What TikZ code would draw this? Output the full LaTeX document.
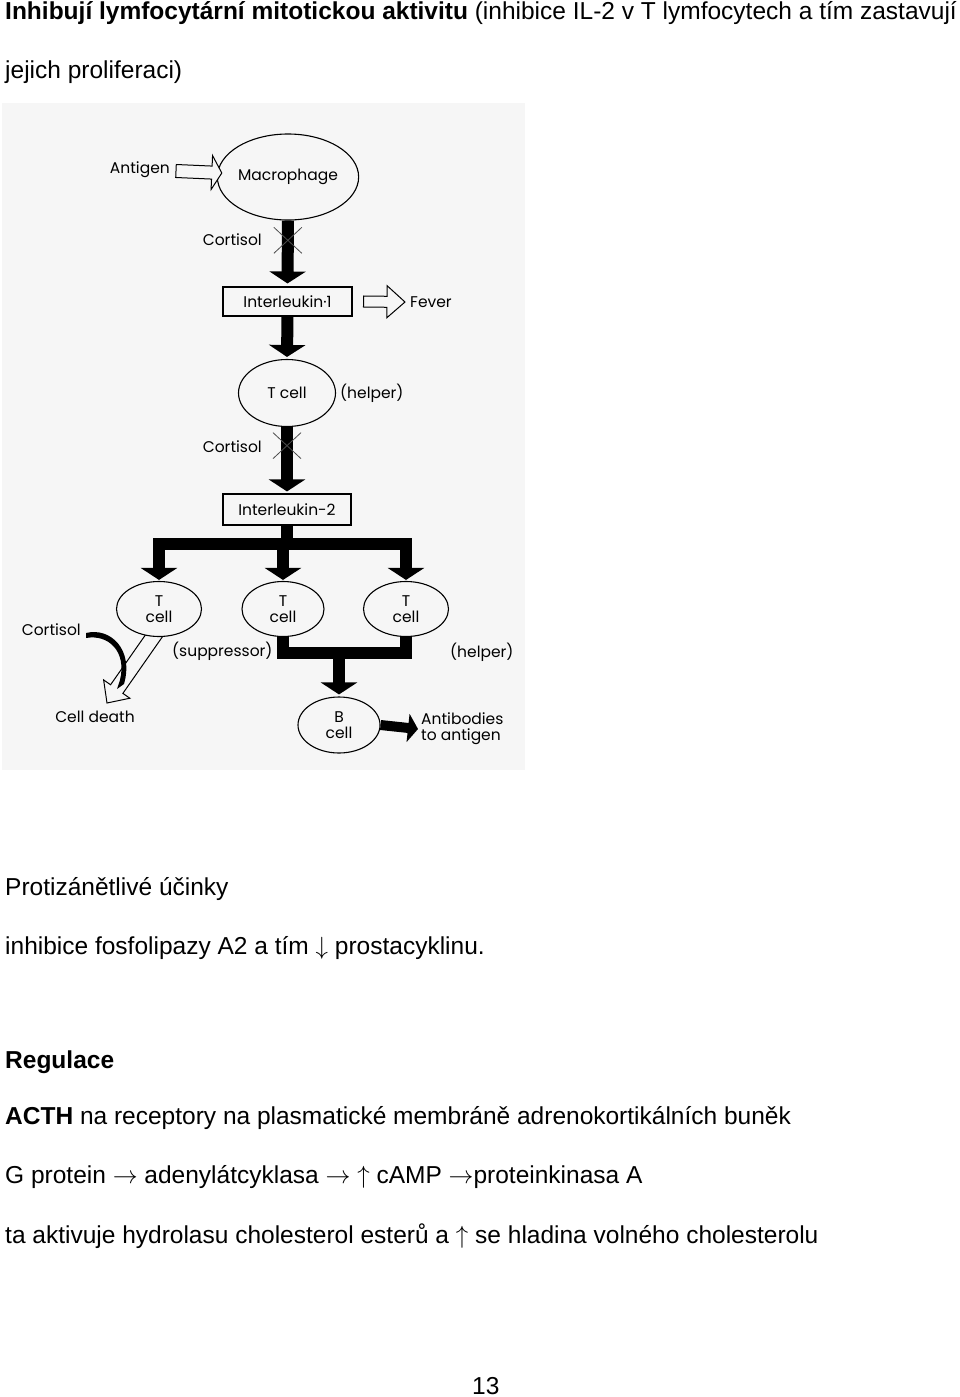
\documentclass[tikz,border=0pt]{standalone}
\usepackage{fontspec}
\setmainfont{Liberation Sans}
\newfontfamily\diag{Poppins}
\usetikzlibrary{arrows.meta,calc,shapes.geometric}
\definecolor{scanbg}{gray}{0.965}
\tikzset{
  txt/.style={anchor=base west, inner sep=0pt, font=\fontsize{24.5}{28}\selectfont},
  lab/.style={inner sep=0pt, font=\diag\fontsize{15.5}{19}\selectfont, align=center},
  cell/.style={ellipse, draw, line width=1.1pt, fill=scanbg, inner sep=0pt, lab},
  box/.style={rectangle, draw, line width=1.1pt, inner sep=0pt, lab},
  thk/.style={line width=12pt, -{Triangle[width=36pt,length=12pt]}},
  thksmall/.style={line width=10pt, -{Triangle[width=28pt,length=10pt]}},
  barline/.style={line width=12pt},
  crossline/.style={line width=0.8pt, black!70},
  hollow/.style={draw, line width=1pt, fill=scanbg, line join=miter},
}
\newcommand\hollowarrow[5]{%
  \coordinate (hH) at ($(#2)!#5!(#1)$);
  \path[hollow] ($(#1)!#3!90:(#2)$) -- ($(hH)!#3!-90:(#1)$) -- ($(hH)!#4!-90:(#1)$) -- (#2)
     -- ($(hH)!#4!90:(#1)$) -- ($(hH)!#3!90:(#1)$) -- ($(#1)!#3!-90:(#2)$) -- cycle;}
\begin{document}
\begin{tikzpicture}[x=1pt,y=-1pt]
\useasboundingbox (0,0) rectangle (960,1397);
\fill[white] (0,0) rectangle (960,1397);
% scanned area
\fill[scanbg] (2,103) rectangle (525,770);

% ---- text above ----
\node[txt] (title) at (5,20) {\textbf{Inhibují lymfocytární mitotickou aktivitu} (inhibice IL-2 v T lymfocytech a tím zastavují};
\node[txt] (title2) at (5,78) {jejich proliferaci)};

% ---- diagram nodes ----
\node[lab, anchor=east] (antigen) at (170,170) {Antigen};
\node[cell, minimum width=130pt, minimum height=86pt] (mac) at (288,177) {Macrophage};
\node[box, minimum width=129pt, minimum height=29pt] (il1) at (287.5,301.5) {Interleukin·1};
\node[lab, anchor=west] (fever) at (410,302) {Fever};
\node[cell, minimum width=97pt, minimum height=67pt] (th) at (287,393) {T cell};
\node[lab, anchor=west] (helper1) at (340,393) {(helper)};
\node[box, minimum width=128pt, minimum height=31pt] (il2) at (287,509.5) {Interleukin-2};
\node[lab, anchor=east] (cort1) at (262,240) {Cortisol};
\node[lab, anchor=east] (cort2) at (262,447) {Cortisol};

% hollow arrow to cell death (drawn before T cell so the ellipse covers its start)
\coordinate (cdtip) at (107,703);
\hollowarrow{158,630}{cdtip}{7.5pt}{16pt}{17pt}

\node[cell, minimum width=85pt, minimum height=55pt] (t1) at (159,609) {T\\[-3pt]cell};
\node[cell, minimum width=82pt, minimum height=55pt] (t2) at (283,609) {T\\[-3pt]cell};
\node[cell, minimum width=85pt, minimum height=55pt] (t3) at (406,609) {T\\[-3pt]cell};
\node[lab, anchor=west] (supp) at (172,651) {(suppressor)};
\node[lab, anchor=west] (helper2) at (450,652) {(helper)};
\node[cell, minimum width=82pt, minimum height=56pt] (bcell) at (339,725) {B\\[-3pt]cell};
\node[lab, anchor=west, align=left] (ab) at (421,729) {Antibodies\\[-3pt]to antigen};
\node[lab, anchor=east] (cort3) at (81,630) {Cortisol};
\node[lab] (cdeath) at (95,717) {Cell death};

% ---- connectors ----
\hollowarrow{$(antigen.east)+(6,1)$}{$(antigen.east -| mac.west)+(5,3)$}{6.5pt}{17pt}{10pt}
\hollowarrow{$(il1.east)+(11,0)$}{$(fever.west)+(-5,0)$}{5.5pt}{16pt}{18pt}

\draw[thk] (mac.south) -- ([yshift=3pt]il1.north);
\draw[thk] (il1.south) -- ([yshift=2pt]th.north);
\draw[thk] (th.south) -- ([yshift=2pt]il2.north);

\coordinate (x1) at ($(mac.south)!0.3!(il1.north)$);
\coordinate (x2) at ($(th.south)!0.28!(il2.north)$);
\draw[crossline] ($(x1)+(-14,-13)$) -- ($(x1)+(14,13)$) ($(x1)+(-14,13)$) -- ($(x1)+(14,-13)$);
\draw[crossline] ($(x2)+(-14,-13)$) -- ($(x2)+(14,13)$) ($(x2)+(-14,13)$) -- ($(x2)+(14,-13)$);

\coordinate (barY) at (0,544);
\draw[barline] (il2.south) -- (il2.south |- barY);
\draw[barline, line cap=rect] (t1.north |- barY) -- (t3.north |- barY);
\draw[thk] (t1.north |- barY) -- ([yshift=1pt]t1.north);
\draw[thk] (t2.north |- barY) -- ([yshift=1pt]t2.north);
\draw[thk] (t3.north |- barY) -- ([yshift=1pt]t3.north);

\coordinate (barY2) at (0,653);
\draw[barline] (t2.south) -- (t2.south |- barY2);
\draw[barline] (t3.south) -- (t3.south |- barY2);
\draw[barline, line cap=rect] (t2.south |- barY2) -- (t3.south |- barY2);
\draw[thk] (bcell.north |- barY2) -- ([yshift=2pt]bcell.north);
\draw[thksmall] (bcell.east) -- ($(ab.west)+(-3,0)$);

% cortisol curved arrow
\coordinate (cs) at ($(cort3.east)+(5,3)$);
\fill (cs) .. controls ($(cs)+(24,-6)$) and ($(cs)+(48,16)$) .. ($(cs)+(38,51)$)
   -- ($(cs)+(31,56)$) -- ($(cs)+(34,47)$)
   .. controls ($(cs)+(41,18)$) and ($(cs)+(22,1)$) .. ($(cs)+(0,5)$) -- cycle;

% ---- text below ----
\node[txt] (p1) at (5,895) {Protizánětlivé účinky};
\node[txt] (p2) at (5,954) {inhibice fosfolipazy A2 a tím $\downarrow$ prostacyklinu.};
\node[txt] (p3) at (5,1068) {\textbf{Regulace}};
\node[txt] (p4) at (5,1124) {\textbf{ACTH} na receptory na plasmatické membráně adrenokortikálních buněk};
\node[txt] (p5) at (5,1183) {G protein $\rightarrow$ adenylátcyklasa $\rightarrow$ $\uparrow$ cAMP $\rightarrow$proteinkinasa A};
\node[txt] (p6) at (5,1243) {ta aktivuje hydrolasu cholesterol esterů a $\uparrow$ se hladina volného cholesterolu};
\node[txt] (pg) at (472,1394) {13};
\end{tikzpicture}
\end{document}
